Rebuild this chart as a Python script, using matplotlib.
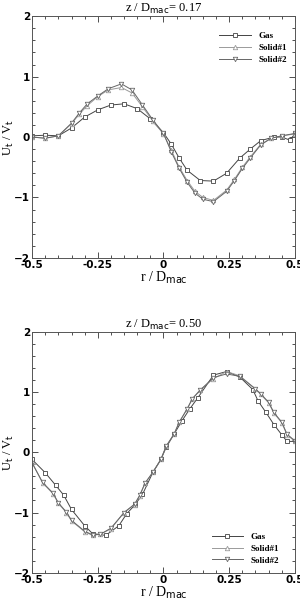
import numpy as np
import matplotlib.pyplot as plt
from matplotlib.ticker import MultipleLocator

# z / D = 0.17
r_top_gas = [-0.5, -0.45, -0.4, -0.35, -0.3, -0.25, -0.2, -0.15, -0.1, -0.05, 0.0, 0.03, 0.06,
             0.09, 0.14, 0.19, 0.24, 0.29, 0.33, 0.37, 0.42, 0.45, 0.48, 0.5]
gas_top = [0.02, 0.03, 0.02, 0.15, 0.33, 0.45, 0.53, 0.55, 0.47, 0.30, 0.07, -0.12, -0.35,
           -0.55, -0.72, -0.73, -0.60, -0.35, -0.20, -0.06, 0.0, 0.0, -0.05, 0.05]
r_top_sol = [-0.5, -0.45, -0.4, -0.35, -0.32, -0.29, -0.25, -0.21, -0.16, -0.12, -0.08, -0.04,
             0.0, 0.03, 0.06, 0.09, 0.12, 0.15, 0.19, 0.24, 0.27, 0.3, 0.33, 0.37, 0.41, 0.45, 0.5]
sol1_top = [0.0, -0.02, 0.02, 0.22, 0.38, 0.52, 0.67, 0.78, 0.82, 0.73, 0.50, 0.26,
            0.05, -0.22, -0.50, -0.72, -0.90, -1.00, -1.05, -0.88, -0.70, -0.50, -0.33, -0.12, -0.02, 0.02, 0.05]
sol2_top = [0.0, -0.02, 0.02, 0.23, 0.40, 0.55, 0.68, 0.80, 0.88, 0.78, 0.53, 0.28,
            0.06, -0.25, -0.52, -0.75, -0.93, -1.03, -1.07, -0.90, -0.72, -0.52, -0.35, -0.13, -0.02, 0.02, 0.06]

# z / D = 0.50
r_bot_gas = [-0.5, -0.45, -0.41, -0.38, -0.35, -0.3, -0.27, -0.22, -0.17, -0.14, -0.11, -0.08,
             -0.04, -0.01, 0.01, 0.04, 0.07, 0.1, 0.13, 0.19, 0.24, 0.29, 0.34, 0.36, 0.39, 0.42, 0.45, 0.47, 0.5]
gas_bot = [-0.12, -0.34, -0.55, -0.71, -0.95, -1.22, -1.35, -1.38, -1.22, -1.02, -0.88, -0.70,
           -0.33, -0.12, 0.08, 0.30, 0.52, 0.72, 0.90, 1.28, 1.34, 1.25, 1.04, 0.85, 0.66, 0.46, 0.29, 0.18, 0.18]
r_bot_sol = [-0.5, -0.46, -0.42, -0.4, -0.37, -0.35, -0.3, -0.27, -0.24, -0.2, -0.15, -0.11, -0.09,
             -0.07, -0.04, -0.01, 0.01, 0.04, 0.06, 0.09, 0.11, 0.14, 0.19, 0.24, 0.29, 0.35, 0.37, 0.4, 0.42, 0.45, 0.47, 0.5]
sol1_bot = [-0.17, -0.51, -0.69, -0.85, -1.00, -1.14, -1.32, -1.38, -1.36, -1.27, -1.00, -0.87, -0.72,
            -0.51, -0.33, -0.12, 0.10, 0.30, 0.50, 0.72, 0.89, 1.04, 1.22, 1.34, 1.27, 1.05, 0.96, 0.82, 0.65, 0.49, 0.29, 0.18]
sol2_bot = [-0.18, -0.50, -0.68, -0.84, -0.99, -1.13, -1.31, -1.37, -1.36, -1.26, -1.00, -0.86, -0.71,
            -0.51, -0.33, -0.12, 0.10, 0.30, 0.50, 0.72, 0.89, 1.03, 1.24, 1.30, 1.26, 1.05, 0.97, 0.83, 0.66, 0.50, 0.30, 0.19]

series_style = [("Gas", "s", "#444444"), ("Solid#1", "^", "#9a9a9a"), ("Solid#2", "v", "#666666")]

fig = plt.figure(figsize=(3.0, 6.01), dpi=100)
ax1 = fig.add_axes([0.107, 0.571, 0.876, 0.402])
ax2 = fig.add_axes([0.107, 0.047, 0.876, 0.401])

panels = [
    (ax1, "0.17", [(r_top_gas, gas_top), (r_top_sol, sol1_top), (r_top_sol, sol2_top)],
     "upper right", (1.0, 0.97)),
    (ax2, "0.50", [(r_bot_gas, gas_bot), (r_bot_sol, sol1_bot), (r_bot_sol, sol2_bot)],
     "lower right", (0.97, 0.0)),
]

serif = "Liberation Serif"
for ax, zval, data, loc, anchor in panels:
    for (x, y), (name, mk, col) in zip(data, series_style):
        ax.plot(x, y, color=col, lw=0.7, marker=mk, ms=3.2, mfc="white",
                mec=col, mew=0.6, label=name)
    ax.set_xlim(-0.5, 0.5)
    ax.set_ylim(-2, 2)
    ax.xaxis.set_minor_locator(MultipleLocator(0.05))
    ax.yaxis.set_major_locator(MultipleLocator(1))
    ax.yaxis.set_minor_locator(MultipleLocator(0.2))
    ax.set_xticks([-0.5, -0.25, 0, 0.25, 0.5])
    ax.set_xticklabels(["-0.5", "-0.25", "0", "0.25", "0.5"])
    ax.tick_params(which="both", direction="in", top=True, right=True, width=0.6,
                   labelsize=7.5, pad=1.5, colors="#333333")
    ax.tick_params(which="major", length=4)
    ax.tick_params(which="minor", length=2)
    for lab in ax.get_xticklabels() + ax.get_yticklabels():
        lab.set_fontweight("bold")
        lab.set_color("black")
    for s in ax.spines.values():
        s.set_linewidth(0.7)
        s.set_color("#555555")
    ax.set_title(r"z / D$_{\rm mac}$= " + zval, fontsize=9, family=serif, pad=2)
    ax.set_xlabel(r"r / D$_{\rm mac}$", fontsize=10, family=serif, labelpad=0)
    ax.set_ylabel(r"U$_{\rm t}$ / V$_{\rm t}$", fontsize=9, family=serif)
    ax.yaxis.set_label_coords(-0.062, 0.5)
    leg = ax.legend(loc=loc, bbox_to_anchor=anchor, frameon=False,
                    prop={"family": serif, "size": 6.5, "weight": "bold"},
                    handlelength=3.5, handletextpad=0.8, labelspacing=0.4)

fig.savefig("out.png", dpi=100)
